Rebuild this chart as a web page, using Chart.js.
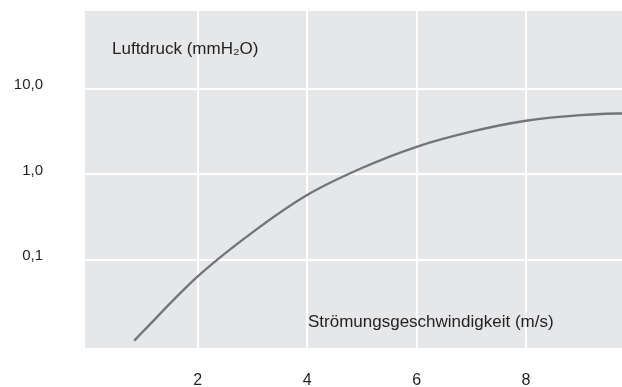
<!DOCTYPE html>
<html lang="de">
<head>
  <meta charset="UTF-8">
  <title>Luftdruck / Strömungsgeschwindigkeit</title>
  <script src="https://cdn.jsdelivr.net/npm/chart.js"></script>
  <style>
    html, body {
      margin: 0;
      padding: 0;
      background: #fff;
      overflow: hidden;
    }
    .wrap {
      width: 622px;
      height: 387px;
      overflow: hidden;
    }
    #chart {
      display: block;
    }
  </style>
</head>
<body>
  <div class="wrap">
    <canvas id="chart" width="640" height="387"></canvas>
  </div>

  <script>
    // Data
    const speed = [0.84, 1, 2, 3, 4, 5, 6, 7, 8, 9, 10];            // m/s
    const pressure = [0.0113, 0.0145, 0.064, 0.21, 0.575, 1.19, 2.11, 3.17, 4.25, 4.95, 5.25]; // mmH2O
    const xTicks = [2, 4, 6, 8, 10];
    const yTicks = [0.1, 1, 10];

    const yTitle = 'Luftdruck (mmH₂O)';
    const xTitle = 'Strömungsgeschwindigkeit (m/s)';

    const textColor = '#231f20';
    const fontFamily = '"Liberation Sans", Arial, Helvetica, sans-serif';

    // Gray plot background + the two in-plot titles
    const plotDecor = {
      id: 'plotDecor',
      beforeDraw(chart) {
        const { ctx, chartArea } = chart;
        ctx.save();
        ctx.fillStyle = '#e6e7e8';
        ctx.fillRect(chartArea.left, chartArea.top,
                     chartArea.right - chartArea.left, chartArea.bottom - chartArea.top);
        ctx.restore();
      },
      afterDatasetsDraw(chart) {
        const { ctx, chartArea } = chart;
        ctx.save();
        ctx.fillStyle = textColor;
        ctx.font = '17px ' + fontFamily;
        ctx.textAlign = 'left';
        ctx.textBaseline = 'alphabetic';
        ctx.fillText(yTitle, chartArea.left + 27, chartArea.top + 43);
        ctx.fillText(xTitle, chartArea.left + 223, chartArea.bottom - 21);
        ctx.restore();
      }
    };

    const ctx = document.getElementById('chart').getContext('2d');

    new Chart(ctx, {
      type: 'line',
      data: {
        datasets: [{
          data: speed.map((v, i) => ({ x: v, y: pressure[i] })),
          borderColor: '#747578',
          borderWidth: 2.4,
          pointRadius: 0,
          fill: false,
          cubicInterpolationMode: 'monotone'
        }]
      },
      options: {
        responsive: false,
        animation: false,
        layout: {
          padding: { top: 11, right: 4.5, left: 0, bottom: 0 }
        },
        plugins: {
          legend: { display: false },
          tooltip: { enabled: false }
        },
        scales: {
          x: {
            type: 'linear',
            min: -0.06,
            max: 10,
            afterBuildTicks(scale) {
              scale.ticks = xTicks.map(v => ({ value: v }));
            },
            afterFit(scale) {
              scale.height = 39;
              scale.paddingLeft = 0;
              scale.paddingRight = 0;
            },
            grid: {
              color: '#ffffff',
              lineWidth: 2,
              drawTicks: false
            },
            border: { display: false },
            ticks: {
              color: textColor,
              padding: 23,
              font: { family: fontFamily, size: 16 },
              maxRotation: 0,
              callback: v => String(v)
            }
          },
          y: {
            type: 'logarithmic',
            min: 0.0093,
            max: 82,
            afterBuildTicks(scale) {
              scale.ticks = yTicks.map(v => ({ value: v }));
            },
            afterFit(scale) {
              scale.width = 85;
              scale.paddingTop = 0;
              scale.paddingBottom = 0;
            },
            grid: {
              color: '#ffffff',
              lineWidth: 2,
              drawTicks: false
            },
            border: { display: false },
            ticks: {
              color: textColor,
              padding: 42,
              labelOffset: -4,
              font: { family: fontFamily, size: 15 },
              callback: v => v.toFixed(1).replace('.', ',')
            }
          }
        }
      },
      plugins: [plotDecor]
    });
  </script>
</body>
</html>
